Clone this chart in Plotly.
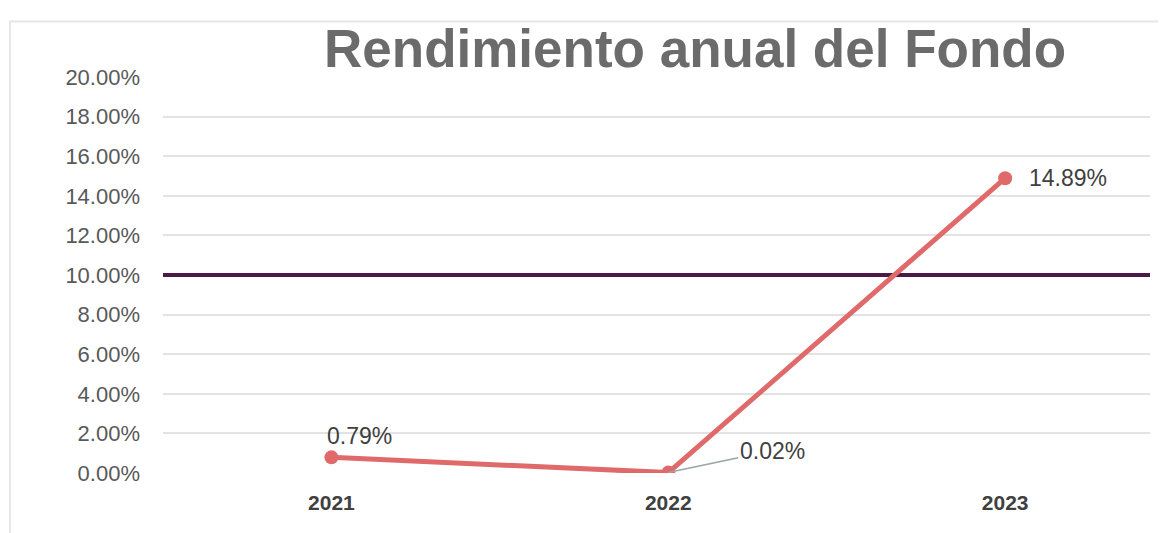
import plotly.graph_objects as go

years = ["2021", "2022", "2023"]
rendimiento = [0.79, 0.02, 14.89]
labels = ["0.79%", "0.02%", "14.89%"]
meta = 10.0
y_ticks = [0, 2, 4, 6, 8, 10, 12, 14, 16, 18, 20]
y_tick_text = [f"{v:.2f}%" for v in y_ticks]

x_pos = list(range(len(years)))

fig = go.Figure()

# target line at 10%
fig.add_trace(go.Scatter(
    x=[-0.5, 2.45], y=[meta, meta], mode="lines",
    line=dict(color="#4a1a48", width=4), hoverinfo="skip", showlegend=False))

fig.add_trace(go.Scatter(
    x=x_pos, y=rendimiento, mode="lines+markers",
    line=dict(color="#e06a6a", width=5),
    marker=dict(color="#e06a6a", size=14),
    showlegend=False))

label_font = dict(family="Liberation Sans, Arial", size=23, color="#404040")
fig.add_annotation(x=x_pos[0], y=rendimiento[0], text=labels[0], showarrow=False,
                   xanchor="left", yanchor="bottom", xshift=-6, yshift=6, font=label_font)
fig.add_annotation(x=x_pos[1], y=rendimiento[1], text=labels[1], showarrow=True,
                   arrowhead=0, arrowwidth=1.5, arrowcolor="#9aa6a6",
                   ax=104, ay=-22, xanchor="center", yanchor="middle", font=label_font)
fig.add_annotation(x=x_pos[2], y=rendimiento[2], text=labels[2], showarrow=False,
                   xanchor="left", yanchor="middle", xshift=22, yshift=0, font=label_font)

# light frame
fig.add_shape(type="rect", xref="paper", yref="paper", x0=-0.155, x1=1.03, y0=-0.16, y1=1.14,
              line=dict(color="#e6e6e6", width=2), layer="below")

fig.update_layout(
    width=1166, height=533,
    margin=dict(l=155, r=24, t=69, b=68),
    paper_bgcolor="white", plot_bgcolor="white",
    title=dict(text="<b>Rendimiento anual del Fondo</b>", x=687/1166, xanchor="center",
               y=1 - 40/533, yanchor="middle",
               font=dict(family="Liberation Sans, Arial", size=53, color="#6b6b6b")),
    xaxis=dict(range=[-0.5, 2.43], tickmode="array", tickvals=x_pos,
               ticktext=[f"<b>{y}</b>" for y in years],
               showgrid=False, zeroline=False, showline=False, ticks="",
               tickfont=dict(family="Liberation Sans, Arial", size=21, color="#404040"),
               ticklabelstandoff=15),
    yaxis=dict(range=[0, 20], tickmode="array", tickvals=y_ticks, ticktext=y_tick_text,
               showgrid=True, gridcolor="#e3e3e3", gridwidth=1.5, zeroline=False,
               showline=False, ticks="",
               tickfont=dict(family="Liberation Sans, Arial", size=22, color="#595959"),
               ticklabelstandoff=22),
)

fig.write_html("out.html")
